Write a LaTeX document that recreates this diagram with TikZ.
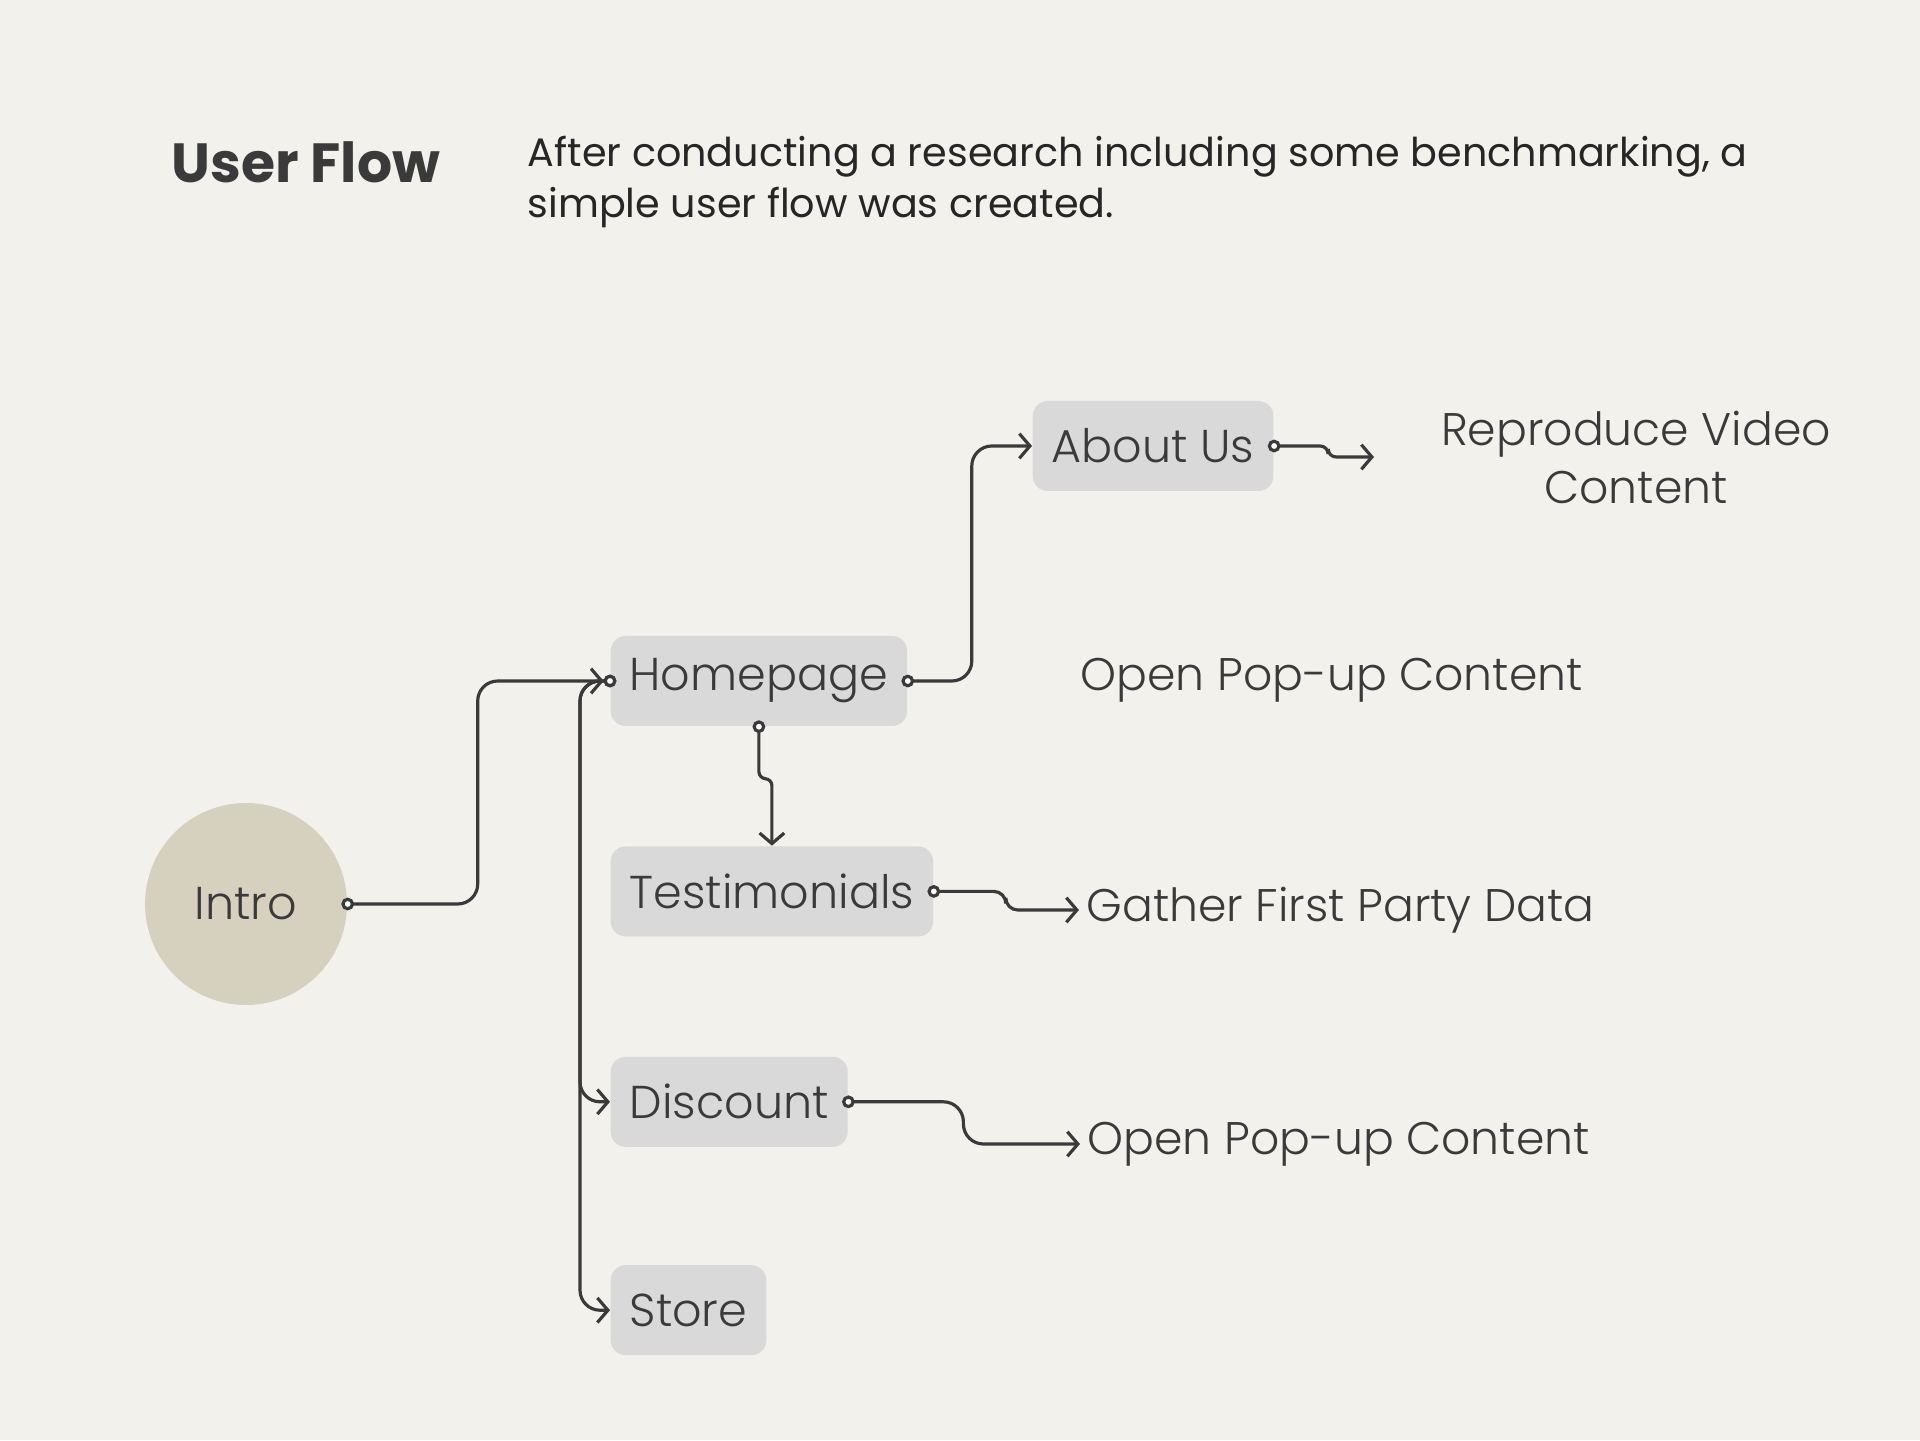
\documentclass[tikz,border=0pt]{standalone}
\usepackage{fontspec}
\setmainfont{Poppins}
\IfFontExistsTF{Poppins Light}{\newfontfamily\lightfont{Poppins Light}}{\newfontfamily\lightfont{Poppins}}
\usepackage{xcolor}
\usetikzlibrary{arrows.meta,positioning,calc}

\definecolor{bgcol}{HTML}{F3F1EC}
\definecolor{boxcol}{HTML}{D9D9D9}
\definecolor{introcol}{HTML}{D6D1BE}
\definecolor{inkcol}{HTML}{3A3A3A}

\begin{document}
\begin{tikzpicture}[
    node distance=1.19cm and 1.8cm,
    box/.style={rectangle, fill=boxcol, rounded corners=0.15cm, inner xsep=0.19cm, minimum height=0.9cm, text=inkcol, font=\lightfont\fontsize{13.1}{16}\selectfont},
    hub/.style={circle, fill=introcol, minimum size=2.02cm, text=inkcol, font=\lightfont\fontsize{13.1}{16}\selectfont},
    note/.style={inner sep=0, anchor=west, text=inkcol, font=\lightfont\fontsize{13}{16.5}\selectfont},
    flow/.style={{Circle[fill=white, length=3.6pt]}-{Straight Barb[length=3pt, width=7pt]}, line width=0.9pt, draw=inkcol, rounded corners=0.2cm, shorten <=-1.8pt}
]
    \path [fill=bgcol, use as bounding box] (0,0) rectangle (19.2,14.4);

    % heading
    \node [anchor=west, inner sep=0, text=inkcol, font=\bfseries\fontsize{15.7}{19}\selectfont] (title) at (1.71,12.78) {User Flow};
    \node [anchor=west, align=left, inner sep=0, text=black!85, font=\fontsize{11.3}{14.4}\selectfont] (desc) at (5.27,12.58) {After conducting a research including some benchmarking, a\\simple user flow was created.};

    % pages
    \node [hub] (intro) at (2.46,5.36) {Intro};
    \node [box, anchor=west] (home) at (6.10,7.59) {Homepage};
    \node [box, below=of home.south west, anchor=north west] (testi) {Testimonials};
    \node [box, below=of testi.south west, anchor=north west] (disc) {Discount};
    \node [box, below=1.17cm of disc.south west, anchor=north west] (store) {Store};
    \node [box, anchor=west] (about) at (10.32,9.94) {About Us};

    % outcomes
    \node [note, anchor=center, align=center] (video) at (16.36,9.82) {Reproduce Video\\Content};
    \node [note] (pop1) at (10.80,7.60) {Open Pop-up Content};
    \node [note] (gather) at (10.86,5.30) {Gather First Party Data};
    \node [note] (pop2) at (10.87,2.96) {Open Pop-up Content};
    \coordinate (vidend) at (13.74,9.83);

    % connectors
    \draw [flow, shorten >=1.8pt] (intro.east) -- ++(1.30,0) |- (home.west);
    \draw [flow] (home.west) -- ++(-0.30,0) |- (disc.west);
    \draw [flow] (home.west) -- ++(-0.30,0) |- (store.west);
    \draw [flow] (home.east) -- ++(0.64,0) |- (about.west);
    \draw [flow, rounded corners=0.07cm] (home.south) -- ++(0,-0.52) -| (testi.north);
    \draw [flow, rounded corners=0.08cm] (about.east) -- ++(0.54,0) |- (vidend);
    \draw [flow, rounded corners=0.12cm, shorten >=2pt] (testi.east) -- ++(0.72,0) |- (gather.west);
    \draw [flow, rounded corners=0.2cm, shorten >=2pt] (disc.east) -- ++(1.15,0) |- (pop2.west);
\end{tikzpicture}
\end{document}
